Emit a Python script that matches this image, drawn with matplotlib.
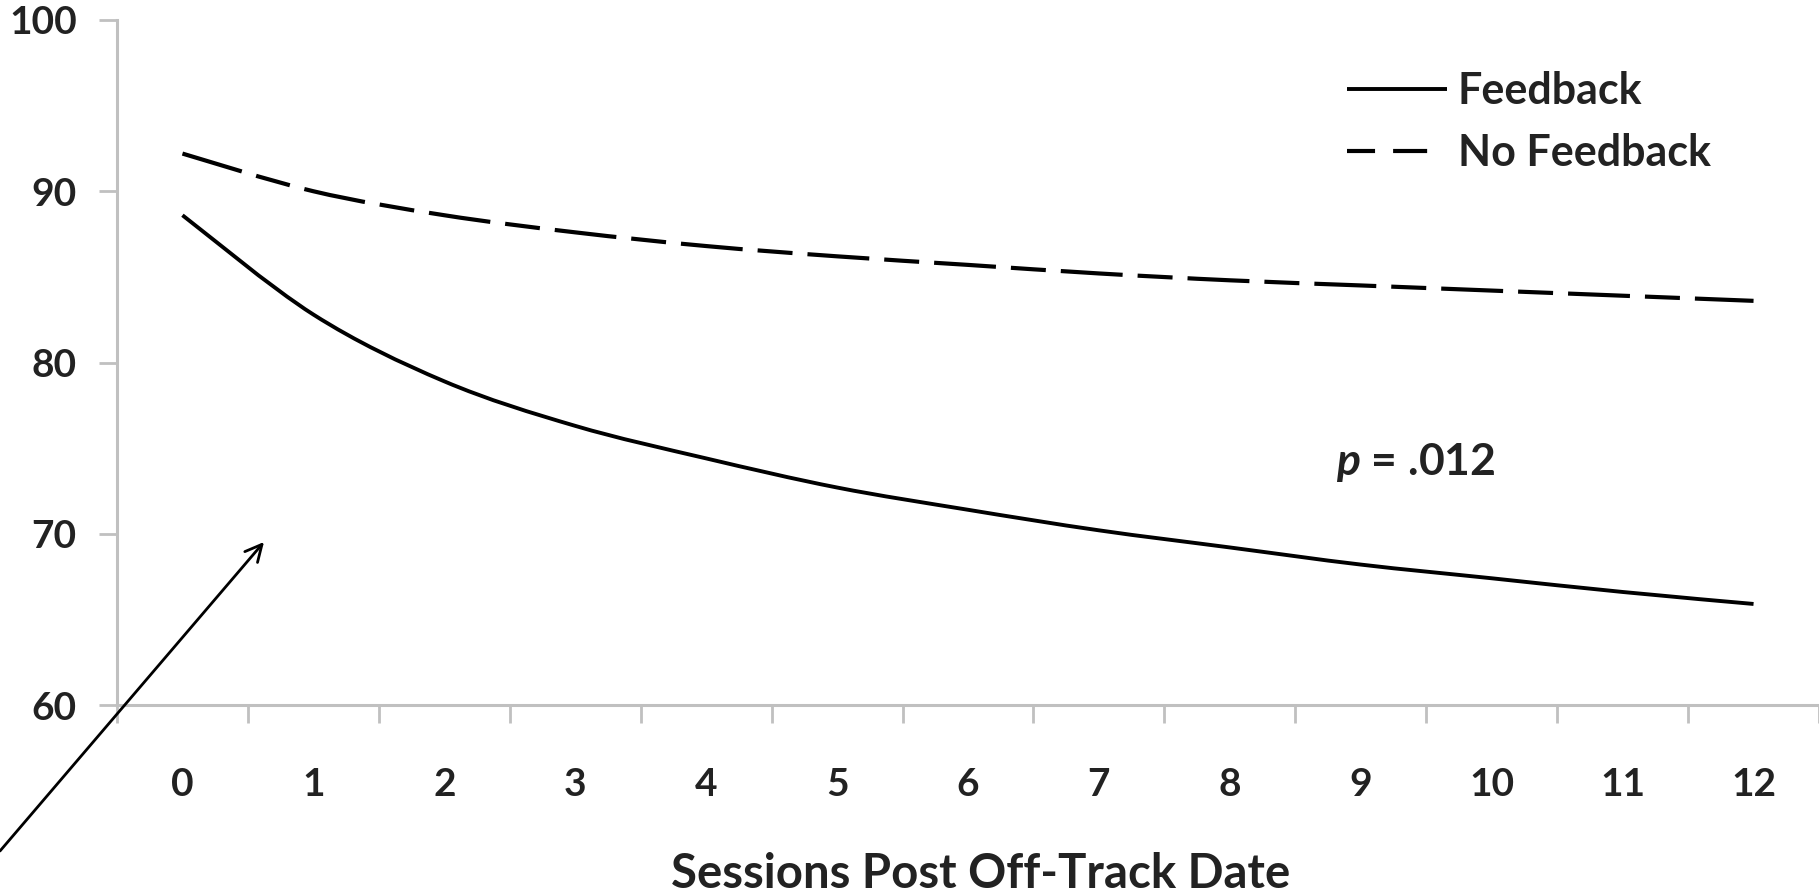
import matplotlib
matplotlib.use("Agg")
import matplotlib.pyplot as plt
from matplotlib.path import Path
from matplotlib.patches import PathPatch
from matplotlib.lines import Line2D
import numpy as np

# ---- data ----
sessions = list(range(13))
tick_labels = [str(s) for s in sessions]
feedback = [88.6, 82.8, 78.9, 76.3, 74.4, 72.7, 71.4, 70.2, 69.2, 68.2, 67.4, 66.6, 65.9]
no_feedback = [92.2, 90.0, 88.6, 87.6, 86.8, 86.2, 85.7, 85.2, 84.8, 84.5, 84.2, 83.9, 83.6]
series_names = ["Feedback", "No Feedback"]
y_ticks = [60, 70, 80, 90, 100]
x_title = "Sessions Post Off-Track Date"
p_text = ".012"

plt.rcParams['font.family'] = ['Lato', 'DejaVu Sans']
plt.rcParams['lines.scale_dashes'] = False
plt.rcParams['mathtext.fontset'] = 'custom'
plt.rcParams['mathtext.it'] = 'Lato:italic:bold'
plt.rcParams['mathtext.rm'] = 'Lato:bold'

W, H = 1819, 894
fig = plt.figure(figsize=(W / 100, H / 100), dpi=100)
fig.patch.set_facecolor('white')

left, right, top, bottom = 117, 1819, 20, 705
ax = fig.add_axes([left / W, 1 - bottom / H, (right - left) / W, (bottom - top) / H])

txt_color = '#222222'
axis_color = '#c0c0c0'


def smooth_path(xs, ys):
    """Excel-style smoothed line: cubic Bezier through the data points."""
    xs = np.asarray(xs, float)
    ys = np.asarray(ys, float)
    pts = np.column_stack([xs, ys])
    n = len(pts)
    verts = [pts[0]]
    codes = [Path.MOVETO]
    for i in range(n - 1):
        p0 = pts[i - 1] if i > 0 else pts[i]
        p1 = pts[i]
        p2 = pts[i + 1]
        p3 = pts[i + 2] if i + 2 < n else pts[i + 1]
        c1 = p1 + (p2 - p0) / 6.0
        c2 = p2 - (p3 - p1) / 6.0
        verts += [c1, c2, p2]
        codes += [Path.CURVE4] * 3
    return Path(verts, codes)


solid_patch = PathPatch(smooth_path(sessions, feedback), fill=False, edgecolor='black',
                        lw=2.8, capstyle='butt', transform=ax.transData)
ax.add_patch(solid_patch)
dash_patch = PathPatch(smooth_path(sessions, no_feedback), fill=False, edgecolor='black',
                       lw=3.0, capstyle='butt', transform=ax.transData,
                       linestyle=(0, (44.6, 10.8, 25.2, 10.8)))
ax.add_patch(dash_patch)

ax.set_xlim(-0.5, 12.5)
ax.set_ylim(60, 100)

for s in ['top', 'right']:
    ax.spines[s].set_visible(False)
for s in ['left', 'bottom']:
    ax.spines[s].set_color(axis_color)
    ax.spines[s].set_linewidth(2.2)

ax.set_yticks(y_ticks)
ax.set_yticklabels([str(v) for v in y_ticks])
ax.tick_params(axis='y', direction='out', length=13, width=2, color=axis_color,
               labelsize=28, pad=16, labelcolor=txt_color)
for lab in ax.get_yticklabels():
    lab.set_fontweight('bold')

ax.set_xticks(np.arange(-0.5, 13, 1.0))
ax.set_xticklabels([])
ax.set_xticks(sessions, minor=True)
ax.set_xticklabels(tick_labels, minor=True)
ax.tick_params(axis='x', which='major', direction='out', length=13, width=2, color=axis_color)
ax.tick_params(axis='x', which='minor', length=0, labelsize=28, pad=45, labelcolor=txt_color)
for lab in ax.get_xticklabels(minor=True):
    lab.set_fontweight('bold')

fig.text(981 / W, 1 - 874 / H, x_title, ha='center', va='center', fontsize=34,
         fontweight='bold', color=txt_color)

fig.text(1336 / W, 1 - 462 / H, r'$p$ = ' + p_text, ha='left', va='center',
         fontsize=32, fontweight='bold', color=txt_color)

handles = [Line2D([], [], color='black', lw=2.8, solid_capstyle='butt'),
           Line2D([], [], color='black', lw=3.0, dash_capstyle='butt',
                  dashes=(20.2, 13.0, 24.5, 30.0))]
leg = fig.legend(handles, series_names, loc='upper left',
                 bbox_to_anchor=(1347 / W, 1 - 71 / H), frameon=False,
                 fontsize=31, handlelength=2.32, handletextpad=0.25, labelspacing=0.52,
                 borderaxespad=0, borderpad=0)
for t in leg.get_texts():
    t.set_fontweight('bold')
    t.set_color(txt_color)

ax.annotate('', xy=(264, H - 542), xytext=(0, H - 851), xycoords='figure pixels',
            textcoords='figure pixels', annotation_clip=False,
            arrowprops=dict(arrowstyle='->', lw=2.0, color='black', mutation_scale=30,
                            shrinkA=0, shrinkB=0))

fig.savefig('out.png', dpi=100, facecolor='white')
